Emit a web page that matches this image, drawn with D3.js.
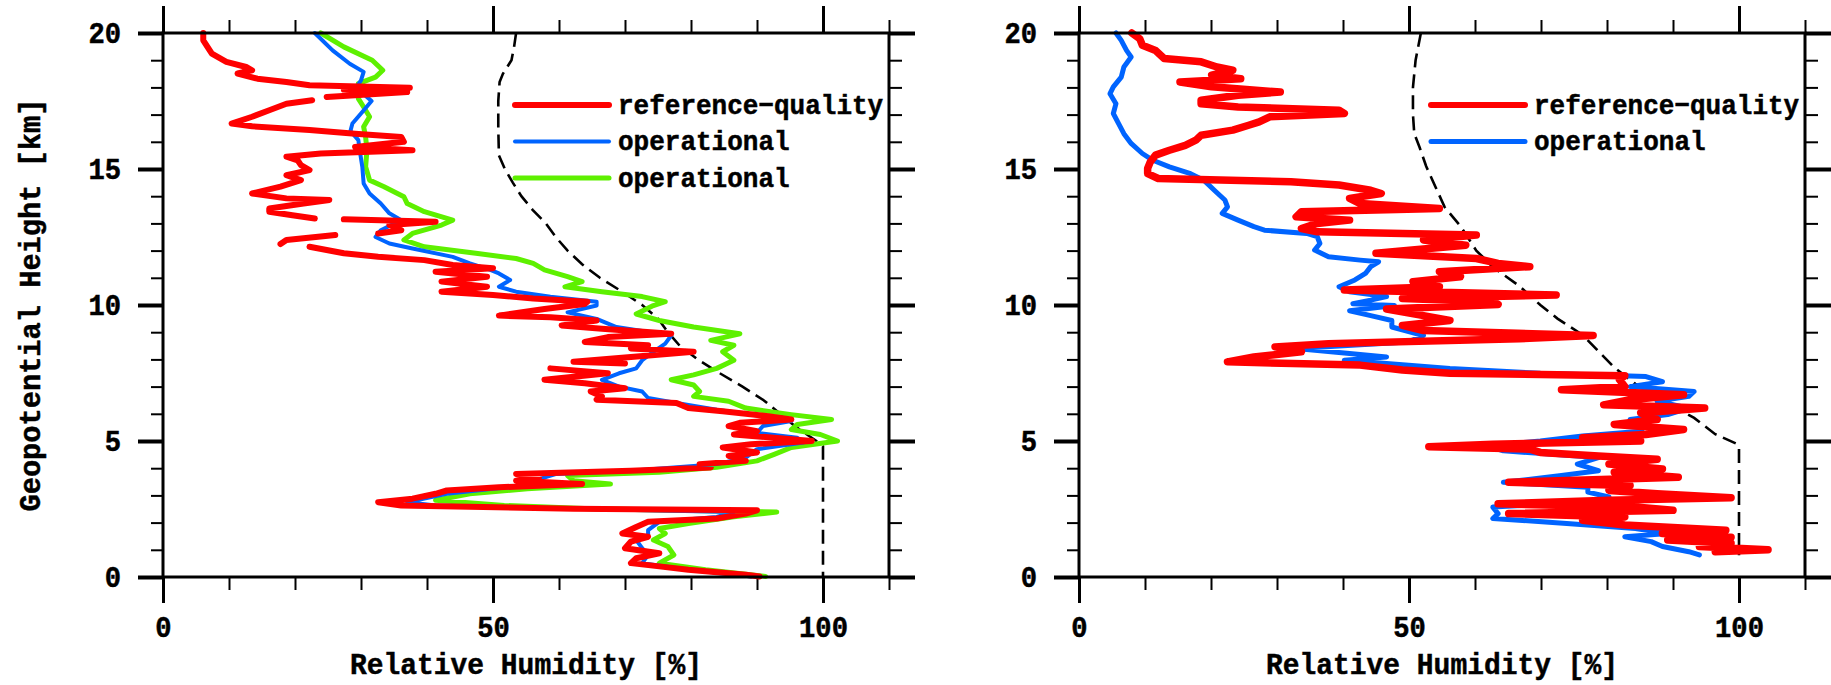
<!DOCTYPE html>
<meta charset="utf-8">
<script src="https://cdn.jsdelivr.net/npm/d3@7"></script>
<style>
  body { margin: 0; background: #fff; }
  text { font-family: "Liberation Mono", "DejaVu Sans Mono", monospace; font-weight: bold; fill: #000; stroke: #000; stroke-width: 0.5px; }
  .tick-label { font-size: 29px; }
  .legend-label { font-size: 28px; }
  .axis-title { font-size: 30px; }
</style>
<div id="dataviz"></div>
<script>
// profiles as [height km, relative humidity %], read top-down; null = gap in the trace
var leftRef = [[20,6.1],[19.73,6.1],[19.24,7.4],[18.94,9.6],[18.75,12.6],[18.63,13.5],[18.51,11.3],[18.32,14.3],[18.2,18.7],[18.08,22.2],[17.99,37.4],[17.92,27.4],[17.83,37],[17.71,29.1],[17.65,24.8],null,
  [17.53,22.6],[17.4,18.7],[17.16,16.1],[16.92,13.5],[16.67,10.4],[16.57,13.5],[16.43,22.2],[16.3,29.1],[16.18,36.1],[16,36.5],[15.81,29.1],[15.69,37.8],[15.57,23.9],[15.45,18.7],[15.32,20.4],[15.14,20.9],[14.96,22.2],[14.77,18.7],[14.59,20.9],[14.35,17.8],[14.1,13.5],[13.92,18.7],[13.86,25.2],[13.73,21.3],[13.55,16.1],[13.43,16.1],[13.3,19.6],[13.18,23],null,
  [13.15,27.4],[13.06,41.3],[12.94,34.3],[12.75,36.1],[12.63,32.6],null,
  [12.57,26.1],[12.39,18.7],[12.24,17.8],null,
  [12.14,22.2],[11.9,27.4],[11.77,32.6],[11.65,39.6],[11.47,43.9],[11.35,50],[11.22,41.3],[11.04,49.1],[10.86,42.2],[10.67,49.1],[10.49,42.2],[10.37,50],[10.24,56.1],[10.12,64.3],[10.04,63.9],[9.85,57.8],[9.61,50.9],[9.55,58.7],[9.43,65.7],[9.25,60.4],[9.13,66.5],[8.94,77],[8.82,67.4],[8.64,63.9],[8.52,73.5],[8.4,70.9],[8.28,80.4],[8.09,70.9],[7.91,62.2],[7.85,70],null,
  [7.67,58.7],[7.49,67.4],[7.25,57.8],[7.12,63.9],[6.94,70],[6.82,64.8],[6.64,66.5],[6.52,65.7],[6.4,77.8],[6.21,79.6],[6.09,84.8],[5.91,91.7],[5.79,95.2],[5.67,87.4],[5.55,85.7],[5.36,90],[5.24,86.5],[5.12,92.6],[5,98.3],[4.88,89.1],[4.76,84.8],[4.58,90],[4.45,85.7],[4.27,88.3],[4.15,81.3],[4.03,83],[3.91,70.9],[3.79,53.5],[3.67,57],[3.54,53.5],[3.42,63.5],[3.3,50.9],[3.18,43],[3.06,41.3],[2.88,37.8],[2.75,32.6],[2.63,36.1],[2.51,62.2],[2.45,90],[2.33,88.3],[2.15,83.9],[2.03,73.5],[1.84,71.7],[1.6,69.6],[1.48,73.5],[1.3,70.9],[1.06,70],[0.87,75.2],[0.69,71.7],[0.51,70.9],[0.39,75.2],[0.27,79.6],[0.08,88.3],[0.02,90.4]];

var leftBlue = [[20,23],[19.36,25.7],[18.87,28.3],[18.57,30.4],[18.26,30],[18,29.3],[17.65,30.9],[17.5,31.6],[17.04,30],[16.67,28.7],[16.4,28.4],[16.06,29.6],[15.7,29.8],[15.08,30.2],[14.47,30.4],[14.1,31.3],[13.73,33],[13.37,34.3],[13.12,36.1],[12.75,33],[12.5,32.2],[12.26,34.3],[12.08,37.8],[11.77,43.9],[11.53,46.5],[11.29,49.6],[11.16,50.9],[10.92,52.6],[10.67,50.9],[10.49,53.5],[10.3,58.7],[10.12,65.7],[9.98,65.7],[9.73,61.3],[9.49,65.7],[9.19,68.7],[8.88,77],[8.58,76.1],[8.28,74.3],[7.97,72.6],[7.67,71.7],[7.49,69.1],[7.25,66.5],[7,69.1],[6.82,72.6],[6.58,73.5],[6.4,77.8],[6.15,83.9],[5.91,90.9],[5.73,95.2],[5.55,90.9],[5.3,90],[5.12,96.1],[4.94,97],[4.7,90],[4.39,88.3],[4.15,83.9],[3.91,70.9],[3.79,59.6],[3.6,57],[3.42,57.8],[3.24,50],[3.06,43],[2.88,39.6],[2.75,37],[2.63,41.3],[2.51,62.2],[2.39,86.5],[2.21,83.9],[2.03,75.2],[1.72,73.5],[1.54,73.5],[1.36,71.7],[1.06,72.6],[0.81,73.5],[0.51,72.6],[0.27,79.6],[0.02,89.1]];

var leftGreen = [[20,23.9],[19.49,27.4],[19,31.7],[18.63,33.3],[18.38,32.2],[18.14,29.6],[17.9,30],[17.59,29.6],[17.28,30.4],[16.92,31.3],[16.55,30.4],[16.18,30.7],[15.69,30.9],[15.08,30.7],[14.59,31.3],[14.35,33.5],[13.98,36.5],[13.73,37],[13.43,39.6],[13.12,43.9],[12.94,42.2],[12.63,37.8],[12.39,36.5],[12.14,39.6],[11.9,47.4],[11.71,53.5],[11.53,56.1],[11.29,57.8],[11.04,61.3],[10.86,63.5],[10.67,60.9],[10.49,66.5],[10.31,72.6],[10.12,76.1],[9.98,74.3],[9.67,71.7],[9.43,75.2],[9.19,80.4],[8.94,87.4],[8.7,83],[8.52,86.5],[8.28,84.8],[7.97,86.5],[7.67,83.9],[7.43,80.4],[7.25,77],[7.06,80.4],[6.82,81.3],[6.64,80.4],[6.46,85.7],[6.21,88.3],[5.97,95.2],[5.79,101.3],[5.61,96.1],[5.42,95.2],[5.24,99.6],[5,102.2],[4.76,95.2],[4.51,92.6],[4.27,90],[4.03,83.9],[3.85,75.2],[3.73,61.3],[3.54,62.2],[3.42,67.8],[3.24,55.2],[3.06,46.5],[2.82,41.3],[2.63,51.7],[2.51,64.8],[2.39,93],[2.21,86.5],[1.97,79.6],[1.78,75.2],[1.6,76.1],[1.36,74.3],[1.12,76.5],[0.81,77.4],[0.51,75.2],[0.27,82.2],[0.02,91.3]];

var leftDash = [[20,53.5],[19.5,53.2],[19,52.8],[18.5,51.5],[18.2,51],[17.5,50.8],[16.5,50.8],[15.5,50.9],[15,51.8],[14.5,53],[14,54.3],[13.5,56],[13,58],[12.5,59.5],[12,61.3],[11.5,63.5],[11,66.2],[10.5,69.5],[10,72.6],[9.5,75],[9,76.5],[8.5,78.3],[8,81],[7.5,84.3],[7,87.8],[6.5,91],[6,93.5],[5.5,96],[5,99],[4.8,100],[0,100]];

var rightRef = [[20,8],[19.79,9.2],[19.55,9.6],[19.36,11.6],[19.06,12.9],[18.94,18.5],[18.75,20.9],[18.63,23.3],[18.45,20.1],[18.32,24.5],[18.2,15.3],[18.02,20.1],[17.83,30.5],[17.71,24.1],[17.53,18.5],[17.4,18.5],[17.28,24.1],[17.16,39.4],[17.04,40.2],[16.92,28.9],[16.73,27.3],[16.61,25.7],[16.43,23.3],[16.24,18.5],[16.06,17.7],[15.87,16.1],[15.69,13.7],[15.51,11.6],[15.26,10.8],[15.02,10.4],[14.83,10.4],[14.65,12],[14.53,32.1],[14.41,39.4],[14.22,44.2],[14.1,45.8],[13.92,41],[13.73,42.6],[13.55,54.6],[13.43,33.7],[13.24,32.9],[13.12,41],[13,36.1],[12.81,33.7],[12.69,36.1],[12.57,60.2],[12.39,52.2],[12.2,58.6],[12.08,53],[11.9,45],[11.71,60.2],[11.53,63.5],[11.41,68.3],[11.22,54.6],[11.04,57.8],[10.86,50.6],[10.67,54.6],[10.55,40.2],[10.37,72.3],[10.24,49],[10.12,62.7],[10.02,63.5],[9.85,46.6],[9.61,52.2],[9.43,56.2],[9.25,49],[9.06,52.2],[8.88,77.9],[8.76,66.7],[8.58,37.8],[8.46,29.7],[8.28,33.7],[8.09,26.5],[7.91,22.5],[7.79,42.6],[7.61,49],[7.49,56.2],[7.4,82.7],[7.25,81.9],[7,82.7],[6.88,73.1],[6.7,91.6],[6.52,83.5],[6.33,79.5],[6.21,94.8],[6.03,85.1],[5.79,87.6],[5.61,81.1],[5.42,91.6],[5.24,85.9],[5.12,76.3],[5,85.1],[4.88,62.7],[4.79,53],[4.7,68.3],[4.58,69.9],[4.45,78.7],[4.33,87.6],[4.15,80.3],[3.97,88.4],[3.85,81.1],[3.67,90.8],[3.48,65.1],[3.36,83.5],[3.18,80.3],[3.06,87.6],[2.91,98.8],[2.82,80.3],[2.69,63.5],[2.57,84.3],[2.45,90],[2.33,65.1],[2.21,82.7],[2.09,76.3],[1.91,82.7],[1.72,98],[1.6,88.4],[1.46,98.8],[1.36,89.2],[1.24,98.8],[1.12,94],[1,104.4],[0.93,96.4]];

var rightBlue = [[20,5.6],[19.73,6.4],[19.36,7.2],[19.12,7.9],[18.75,6.8],[18.38,6.4],[18.02,5.2],[17.77,4.7],[17.4,5.6],[17.04,5.2],[16.67,6],[16.3,6.8],[15.94,7.9],[15.57,9.6],[15.32,11.2],[15.08,13.7],[14.83,16.9],[14.59,18.9],[14.22,20.5],[13.86,22.1],[13.61,22.5],[13.37,21.7],[13.12,24.1],[12.88,26.5],[12.75,28.1],[12.63,34.5],[12.51,36.1],[12.26,36.5],[12.02,35.7],[11.77,37.8],[11.65,42.6],[11.59,45.4],[11.41,44.2],[11.16,43.4],[10.92,41.8],[10.67,39.4],[10.49,41],[10.31,46.6],[10.18,44.2],[10.05,41.5],[9.98,47.8],[9.79,41],[9.61,44.2],[9.43,47.4],[9.19,47.4],[8.88,52.2],[8.64,49.8],[8.4,32.9],[8.22,41],[8.09,46.6],[7.97,40.2],[7.85,46.6],[7.67,56.2],[7.49,69.9],[7.37,85.9],[7.18,88.4],[7,83.5],[6.82,93.2],[6.64,92.4],[6.46,87.6],[6.21,92.4],[5.97,89.2],[5.79,83.5],[5.61,85.9],[5.36,85.1],[5.18,76.3],[5,69.9],[4.82,61.8],[4.64,64.3],[4.39,78.7],[4.15,75.5],[3.91,78.7],[3.73,73.1],[3.48,64.3],[3.3,77.1],[3.12,77.1],[2.94,80.3],[2.75,76.3],[2.57,62.7],[2.33,63.5],[2.15,62.7],[1.97,73.9],[1.78,84.3],[1.6,89.2],[1.48,82.7],[1.3,86.7],[1.12,88.4],[0.93,92.4],[0.81,94]];

var rightDash = [[20,51.8],[19,51],[18,50.6],[17,50.6],[16.3,50.8],[15.8,51.6],[15.1,52.6],[14.35,54],[13.6,55.4],[12.9,57.8],[12,60.2],[11.4,62.7],[10.7,66.7],[10,69.9],[9.5,72.5],[8.9,76.3],[8.3,78.7],[7.7,81.1],[7.1,84.3],[6.5,88.4],[5.85,93.2],[5.25,96.4],[4.9,99.6],[4.8,100],[0.8,100]];

var leftLegend = ["reference\u2212quality", "operational", "operational"];
var rightLegend = ["reference\u2212quality", "operational"];
var xMajor = [0, 50, 100];
var yMajor = [0, 5, 10, 15, 20];
var xTitle = "Relative Humidity [%]";
var yTitle = "Geopotential Height [km]";

var RED = "#ff0000", BLUE = "#0064ff", GREEN = "#5ef000";

var svg = d3.select("#dataviz").append("svg")
    .attr("width", 1831)
    .attr("height", 685)

var plotW = 726, plotH = 544, plotTop = 33;

var x = d3.scaleLinear().domain([0, 110]).range([0, plotW])
var y = d3.scaleLinear().domain([0, 20]).range([plotH, 0])

var line = d3.line()
    .defined(d => d !== null)
    .x(d => x(d[1]))
    .y(d => y(d[0]))

function addAxis(g, gen, vals, size, sw, pad, labels) {
    var a = g.append("g")
        .call(gen.tickValues(vals).tickSize(size).tickSizeOuter(0).tickPadding(pad)
            .tickFormat(labels ? d3.format("d") : ""))
    a.select(".domain").remove()
    a.selectAll("line").attr("stroke", "#000").attr("stroke-width", sw)
    if (labels) {
        a.selectAll("text")
            .attr("class", "tick-label")
            .attr("textLength", d => String(d).length * 16.3)
            .attr("lengthAdjust", "spacingAndGlyphs")
    }
    return a
}

function panel(x0, series, dash, legend, showYTitle) {
    var g = svg.append("g").attr("transform", "translate(" + x0 + "," + plotTop + ")")

    // minor and major ticks on all four sides, pointing outward
    var minorX = d3.range(0, 111, 10), minorY = d3.range(0, 21, 1)
    addAxis(g.append("g").attr("transform", "translate(0," + plotH + ")"), d3.axisBottom(x), minorX, 13, 2, 0, false)
    addAxis(g.append("g").attr("transform", "translate(0," + plotH + ")"), d3.axisBottom(x), xMajor, 26, 3, 13, true)
    addAxis(g, d3.axisTop(x), minorX, 13, 2, 0, false)
    addAxis(g, d3.axisTop(x), xMajor, 27, 3, 0, false)
    addAxis(g, d3.axisLeft(y), minorY, 12, 2, 0, false)
    addAxis(g, d3.axisLeft(y), yMajor, 25, 4, 17, true)
    addAxis(g.append("g").attr("transform", "translate(" + plotW + ",0)"), d3.axisRight(y), minorY, 13, 2, 0, false)
    addAxis(g.append("g").attr("transform", "translate(" + plotW + ",0)"), d3.axisRight(y), yMajor, 26, 4, 0, false)

    g.append("path")
        .datum(dash)
        .attr("fill", "none")
        .attr("stroke", "#000")
        .attr("stroke-width", 2.6)
        .attr("stroke-dasharray", "14 7")
        .attr("d", line)

    series.forEach(function(s) {
        g.append("path")
            .datum(s.data)
            .attr("fill", "none")
            .attr("stroke", s.color)
            .attr("stroke-width", s.width)
            .attr("stroke-linejoin", "round")
            .attr("stroke-linecap", "round")
            .attr("d", line)
    })

    // frame
    g.append("rect")
        .attr("x", x(0)).attr("y", y(20))
        .attr("width", x(110) - x(0)).attr("height", y(0) - y(20))
        .attr("fill", "none").attr("stroke", "#000").attr("stroke-width", 3)

    // legend
    var items = legend.map((t, i) => ({ text: t, s: series.find(s => s.key === i) }))
    var lg = g.selectAll(".lg").data(items).enter().append("g")
        .attr("transform", (d, i) => "translate(352," + (72 + i * 36.5) + ")")
    lg.append("line")
        .attr("x1", 0).attr("x2", 94)
        .attr("stroke", d => d.s.color)
        .attr("stroke-width", d => Math.min(d.s.width, 6))
        .attr("stroke-linecap", "round")
    lg.append("text")
        .attr("class", "legend-label")
        .attr("x", 103).attr("y", 8.5)
        .attr("textLength", d => d.text.length * 15.6)
        .attr("lengthAdjust", "spacingAndGlyphs")
        .text(d => d.text)

    g.append("text")
        .attr("class", "axis-title")
        .attr("x", plotW / 2).attr("y", 641)
        .attr("text-anchor", "middle")
        .attr("textLength", 352).attr("lengthAdjust", "spacingAndGlyphs")
        .text(xTitle)

    if (showYTitle) {
        g.append("text")
            .attr("class", "axis-title")
            .attr("transform", "translate(" + (40 - x0) + "," + (plotH / 2) + ") rotate(-90)")
            .attr("text-anchor", "middle")
            .attr("textLength", 413).attr("lengthAdjust", "spacingAndGlyphs")
            .text(yTitle)
    }
}

panel(163, [
    { key: 2, data: leftGreen, color: GREEN, width: 5 },
    { key: 1, data: leftBlue, color: BLUE, width: 4 },
    { key: 0, data: leftRef, color: RED, width: 6 }
], leftDash, leftLegend, true)

panel(1079, [
    { key: 1, data: rightBlue, color: BLUE, width: 5 },
    { key: 0, data: rightRef, color: RED, width: 7.5 }
], rightDash, rightLegend, false)
</script>
